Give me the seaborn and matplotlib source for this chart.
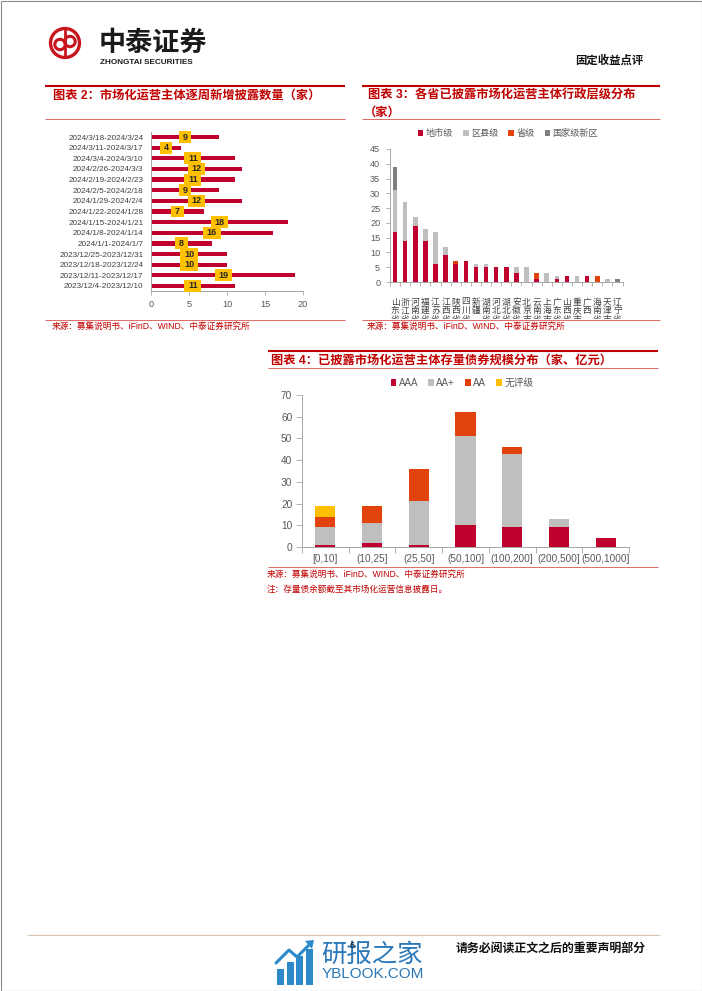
import numpy as np
import pandas as pd
import matplotlib
matplotlib.use("Agg")
import matplotlib.pyplot as plt
import seaborn as sns
from matplotlib.patches import Patch, Rectangle, Circle, Polygon
from matplotlib.path import Path
from matplotlib.transforms import Bbox, TransformedBbox

# ---------------- data ----------------
weeks = ["2024/3/18-2024/3/24", "2024/3/11-2024/3/17", "2024/3/4-2024/3/10",
         "2024/2/26-2024/3/3", "2024/2/19-2024/2/23", "2024/2/5-2024/2/18",
         "2024/1/29-2024/2/4", "2024/1/22-2024/1/28", "2024/1/15-2024/1/21",
         "2024/1/8-2024/1/14", "2024/1/1-2024/1/7", "2023/12/25-2023/12/31",
         "2023/12/18-2023/12/24", "2023/12/11-2023/12/17", "2023/12/4-2023/12/10"]
weekly_new = [9, 4, 11, 12, 11, 9, 12, 7, 18, 16, 8, 10, 10, 19, 11]

provinces = ["山东省", "浙江省", "河南省", "福建省", "江苏省", "江西省", "陕西省", "四川省",
             "新疆", "湖南省", "河北省", "湖北省", "安徽省", "北京市", "云南省", "上海市",
             "广东省", "山西省", "重庆市", "广西", "海南省", "天津市", "辽宁省"]
city_level = [17, 14, 19, 14, 6, 9, 6, 7, 5, 5, 5, 5, 3, 0, 1, 0, 1, 2, 0, 2, 0, 0, 0]
county_level = [14, 13, 3, 4, 11, 3, 0, 0, 1, 1, 0, 0, 2, 5, 0, 3, 1, 0, 2, 0, 0, 1, 0]
prov_level = [0, 0, 0, 0, 0, 0, 1, 0, 0, 0, 0, 0, 0, 0, 2, 0, 0, 0, 0, 0, 2, 0, 0]
new_area = [8, 0, 0, 0, 0, 0, 0, 0, 0, 0, 0, 0, 0, 0, 0, 0, 0, 0, 0, 0, 0, 0, 1]
level_names = ["地市级", "区县级", "省级", "国家级新区"]

size_bins = ["[0,10]", "(10,25]", "(25,50]", "(50,100]", "(100,200]", "(200,500]", "(500,1000]"]
aaa = [1, 2, 1, 10, 9, 9, 4]
aa_plus = [8, 9, 20, 41, 34, 4, 0]
aa = [5, 8, 15, 11, 3, 0, 0]
unrated = [5, 0, 0, 0, 0, 0, 0]
rating_names = ["AAA", "AA+", "AA", "无评级"]

# ---------------- style ----------------
CRIMSON = "#C0002F"
GRAY = "#BFBFBF"
ORANGE = "#E2430C"
DGRAY = "#7F7F7F"
YELLOW = "#FFC000"
RED = "#C00000"
AXIS = "#A6A6A6"
TXT = "#595959"
CJK = "Noto Sans CJK SC"
MIX = ["Liberation Sans", CJK]

sns.set_theme(style="white")
plt.rcParams["font.family"] = MIX
plt.rcParams["axes.unicode_minus"] = False

W, H = 702, 991
fig = plt.figure(figsize=(W / 100, H / 100), dpi=100)
fig.patch.set_facecolor("white")


def ax_px(l, t, r, b, **kw):
    return fig.add_axes([l / W, 1 - b / H, (r - l) / W, (b - t) / H], **kw)


def label_box(x0, y0, width, height, mutation_size):
    px = 0.40 * mutation_size
    py = 0.16 * mutation_size
    x0, y0 = x0 - px, y0 - py
    x1, y1 = x0 + width + 2 * px, y0 + height + 2 * py
    return Path([(x0, y0), (x1, y0), (x1, y1), (x0, y1), (x0, y0)], closed=True)


def style_axes(ax):
    ax.set_xlabel("")
    ax.set_ylabel("")
    ax.set_facecolor("none")
    for s in ["top", "right"]:
        ax.spines[s].set_visible(False)
    for s in ["left", "bottom"]:
        ax.spines[s].set_color(AXIS)
        ax.spines[s].set_linewidth(0.7)


# ---------------- chart 2 ----------------
ax2 = ax_px(151, 131.7, 303, 291.3)
df2 = pd.DataFrame({"week": weeks, "n": weekly_new})
sns.barplot(data=df2, x="n", y="week", orient="h", color=CRIMSON, saturation=1,
            width=0.4, errorbar=None, linewidth=0, ax=ax2)
style_axes(ax2)
ax2.set_xlim(0, 20)
ax2.set_xticks([0, 5, 10, 15, 20])
ax2.tick_params(axis="x", bottom=True, length=3, width=0.6, color=AXIS, pad=3,
                labelsize=6.6, labelcolor=TXT)
ax2.tick_params(axis="y", left=False, length=0, pad=5.5, labelsize=5.9, labelcolor="#404040")
ax2.bar_label(ax2.containers[0], label_type="center", fontsize=6.5, fontweight="bold",
              color="#262626", family="Liberation Sans",
              bbox=dict(boxstyle=label_box, fc=YELLOW, ec="none"))

# ---------------- chart 3 ----------------
ax3 = ax_px(390, 149, 622.5, 282)
c1 = np.array(city_level)
c2 = c1 + np.array(county_level)
c3 = c2 + np.array(prov_level)
c4 = c3 + np.array(new_area)
for cum, col in [(c4, DGRAY), (c3, ORANGE), (c2, GRAY), (c1, CRIMSON)]:
    sns.barplot(x=provinces, y=cum, color=col, saturation=1, width=0.45,
                errorbar=None, linewidth=0, ax=ax3)
style_axes(ax3)
n3 = len(provinces)
ax3.set_xlim(-0.5, n3 - 0.5)
ax3.set_ylim(0, 45)
ax3.set_yticks(np.arange(0, 46, 5))
ax3.set_xticks(np.arange(-0.5, n3, 1.0), labels=[""] * (n3 + 1))
ax3.set_xticks(np.arange(n3), labels=["\n".join(p) for p in provinces], minor=True)
ax3.tick_params(axis="x", which="major", bottom=True, length=3, width=0.6, color=AXIS)
ax3.tick_params(axis="x", which="minor", bottom=True, length=0, pad=11.5,
                labelsize=6.3, labelcolor="#404040")
ax3.tick_params(axis="y", left=True, length=3, width=0.6, color=AXIS, pad=4,
                labelsize=6.6, labelcolor=TXT)
clip3 = TransformedBbox(Bbox([[0, 1 - 319.0 / H], [1, 1]]), fig.transFigure)
for t in ax3.get_xticklabels(minor=True):
    t.set_fontfamily(CJK)
    t.set_linespacing(0.9)
    t.set_clip_on(True)
    t.set_clip_box(clip3)

h3 = [Patch(fc=c, ec="none") for c in [CRIMSON, GRAY, ORANGE, DGRAY]]
fig.legend(h3, level_names, loc="center", bbox_to_anchor=(508 / W, 1 - 133.5 / H), ncol=4,
           frameon=False, prop={"family": MIX, "size": 6.6}, labelcolor=TXT,
           handlelength=0.6, handleheight=0.6, handletextpad=0.25, columnspacing=1.1,
           borderaxespad=0, borderpad=0)

# ---------------- chart 4 ----------------
ax4 = ax_px(302, 395, 629, 547)
r1 = np.array(aaa)
r2 = r1 + np.array(aa_plus)
r3 = r2 + np.array(aa)
r4 = r3 + np.array(unrated)
for cum, col in [(r4, YELLOW), (r3, ORANGE), (r2, GRAY), (r1, CRIMSON)]:
    sns.barplot(x=size_bins, y=cum, color=col, saturation=1, width=0.43,
                errorbar=None, linewidth=0, ax=ax4)
style_axes(ax4)
n4 = len(size_bins)
ax4.set_xlim(-0.5, n4 - 0.5)
ax4.set_ylim(0, 70)
ax4.set_yticks(np.arange(0, 71, 10))
ax4.set_xticks(np.arange(-0.5, n4, 1.0), labels=[""] * (n4 + 1))
ax4.set_xticks(np.arange(n4), labels=size_bins, minor=True)
ax4.tick_params(axis="x", which="major", bottom=True, length=4, width=0.6, color=AXIS)
ax4.tick_params(axis="x", which="minor", bottom=True, length=0, pad=5,
                labelsize=7.2, labelcolor=TXT)
ax4.tick_params(axis="y", left=True, length=4, width=0.6, color=AXIS, pad=3,
                labelsize=7.3, labelcolor=TXT)

h4 = [Patch(fc=c, ec="none") for c in [CRIMSON, GRAY, ORANGE, YELLOW]]
fig.legend(h4, rating_names, loc="center", bbox_to_anchor=(462 / W, 1 - 383 / H), ncol=4,
           frameon=False, prop={"family": MIX, "size": 7}, labelcolor=TXT,
           handlelength=0.6, handleheight=0.6, handletextpad=0.25, columnspacing=1.0,
           borderaxespad=0, borderpad=0)

# ---------------- page decorations (pixel overlay) ----------------
ov = fig.add_axes([0, 0, 1, 1], zorder=10)
ov.set_xlim(0, W)
ov.set_ylim(H, 0)
ov.axis("off")
ov.patch.set_visible(False)


def hline(x0, x1, y, lw, color):
    ov.plot([x0, x1], [y, y], lw=lw, color=color, solid_capstyle="butt")


def txt(x, y, s, size, color="black", weight="normal", family=CJK, ha="left", **kw):
    ov.text(x, y, s, fontsize=size, color=color, fontweight=weight, family=family,
            ha=ha, va="center", **kw)


# page border
ov.add_patch(Rectangle((0.5, 0.5), W - 1, H - 1, fill=False, ec="#8C8C8C", lw=0.8))

# logo
ov.add_patch(Circle((65, 43), 14.5, fill=False, ec="#C8161D", lw=2.4))
ov.add_patch(Circle((60, 44.5), 5.2, fill=False, ec="#C8161D", lw=2.2))
ov.add_patch(Circle((70, 41.5), 5.2, fill=False, ec="#C8161D", lw=2.2))
ov.plot([65, 65], [30, 56], color="#C8161D", lw=2.0)
txt(99, 43, "中泰证券", 19.5, color="#1A1A1A", weight="bold")
txt(100, 62, "ZHONGTAI SECURITIES", 5.9, color="#1A1A1A", weight="bold",
    family="Liberation Sans")
txt(575, 60, "固定收益点评", 8.2, color="#111111", weight="bold")

# chart 2 header / footer
hline(45, 345, 86, 1.5, RED)
txt(53, 95.5, "图表 2：市场化运营主体逐周新增披露数量（家）", 8.8, color=RED, weight="bold",
    family=MIX)
hline(45, 345, 119, 0.6, "#D9534F")
hline(45, 345, 319.5, 0.6, "#D9534F")
txt(52, 326.5, "来源：募集说明书、iFinD、WIND、中泰证券研究所", 6.2, color=RED, family=MIX)

# chart 3 header / footer
hline(362, 660, 86, 1.5, RED)
txt(368, 95.5, "图表 3：各省已披露市场化运营主体行政层级分布", 8.8, color=RED, weight="bold",
    family=MIX)
txt(364, 112, "（家）", 8.8, color=RED, weight="bold")
hline(362, 660, 119, 0.6, "#D9534F")
hline(362, 660, 319.5, 0.6, "#D9534F")
txt(367, 326.5, "来源：募集说明书、iFinD、WIND、中泰证券研究所", 6.2, color=RED, family=MIX)

# chart 4 header / footer
hline(268, 658, 351, 1.5, RED)
txt(271, 360.5, "图表 4：已披露市场化运营主体存量债券规模分布（家、亿元）", 8.8, color=RED,
    weight="bold", family=MIX)
hline(268, 658, 368, 0.6, "#D9534F")
hline(268, 658, 567, 0.6, "#D9534F")
txt(267, 574.5, "来源：募集说明书、iFinD、WIND、中泰证券研究所", 6.2, color=RED, family=MIX)
txt(267, 589.5, "注：存量债余额截至其市场化运营信息披露日。", 6.2, color=RED, family=MIX)

# page footer
hline(27, 660, 935, 0.8, "#D8C6B4")
txt(456, 949.5, "请务必阅读正文之后的重要声明部分", 8.6, color="#111111", weight="bold")
BLUE = "#2C8ACB"
for bx, top in [(277, 969), (286.5, 962), (296, 956), (305.5, 949)]:
    ov.add_patch(Rectangle((bx, top), 7, 985 - top, fc=BLUE, ec="none"))
ov.plot([276, 289, 297, 311], [963, 950, 957, 943], color=BLUE, lw=2.2)
ov.add_patch(Polygon([[305, 941], [314, 940], [312, 949]], closed=True, fc=BLUE, ec="none"))
txt(321, 955, "研报之家", 18.3, color="#2A78B8")
txt(322, 973.5, "YBLOOK.COM", 11, color="#2A78B8", family="Liberation Sans")
txt(349, 946, "6", 6.5, color="#111111", family="Liberation Sans")

fig.savefig("out.png", dpi=100, facecolor="white")
